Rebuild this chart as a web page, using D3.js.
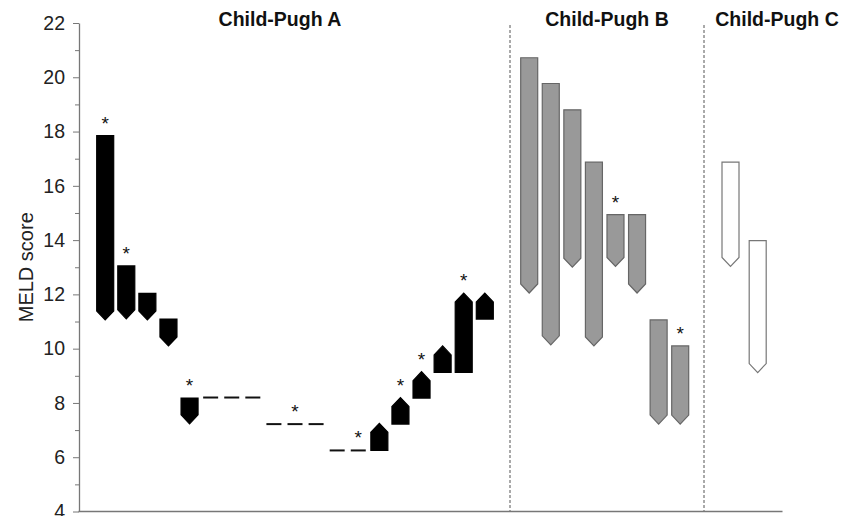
<!DOCTYPE html>
<html>
<head>
<meta charset="utf-8">
<script src="https://cdn.jsdelivr.net/npm/d3@7"></script>
<style>
  body { margin: 0; background: #fff; }
  text { font-family: "Liberation Sans", Arial, sans-serif; }
</style>
</head>
<body>
<div id="chart"></div>
<script>
// MELD score before (start) -> after (end), one entry per patient
let groupNames = ["Child-Pugh A", "Child-Pugh B", "Child-Pugh C"];

let startA = [17.85, 13.05, 12.04, 11.09, 8.18, 8.2, 8.2, 8.2, 7.22, 7.22, 7.22, 6.25, 6.25, 6.25, 7.22, 8.18, 9.13, 9.13, 11.09];
let endA   = [11.06, 11.1, 11.06, 10.1, 7.23, 8.2, 8.2, 8.2, 7.22, 7.22, 7.22, 6.25, 6.25, 7.25, 8.2, 9.15, 10.1, 12.05, 12.05];
let starA  = [1, 1, 0, 0, 1, 0, 0, 0, 0, 1, 0, 0, 1, 0, 1, 1, 0, 1, 0];

let startB = [20.72, 19.77, 18.8, 16.87, 14.94, 14.94, 11.06, 10.1];
let endB   = [12.05, 10.14, 13.0, 10.1, 13.03, 12.05, 7.22, 7.22];
let starB  = [0, 0, 0, 0, 1, 0, 0, 1];

let startC = [16.87, 13.98];
let endC   = [13.03, 9.12];
let starC  = [0, 0];

let yTicks = [4, 6, 8, 10, 12, 14, 16, 18, 20, 22];

// layout
const width = 854, height = 516;
const barW = 17, headH = 9;

let y = d3.scaleLinear().domain([4, 22]).range([511.5, 23]);

// one x scale per group (patient index -> bar centre)
let groups = [
  {name: groupNames[0], start: startA, end: endA, star: starA, range: [105.2, 484.8], fill: "#000", stroke: "#000", labelX: 280},
  {name: groupNames[1], start: startB, end: endB, star: starB, range: [529.2, 680.2], fill: "#999", stroke: "#666", labelX: 607},
  {name: groupNames[2], start: startC, end: endC, star: starC, range: [730.5, 757.7], fill: "#fff", stroke: "#777", labelX: 777}
];

let svg = d3.select("#chart").append("svg")
    .attr("width", width)
    .attr("height", height);

// dotted separators between groups
[510, 704].forEach(xs => {
  svg.append("line")
      .attr("x1", xs).attr("x2", xs)
      .attr("y1", 25).attr("y2", y(4))
      .attr("stroke", "#555")
      .attr("stroke-width", 1)
      .attr("stroke-dasharray", "3,2");
});

// y axis with minor ticks
let minor = d3.range(5, 22, 2);
svg.append("g")
    .attr("transform", "translate(79,0)")
    .call(d3.axisLeft(y).tickValues(minor).tickSize(4).tickFormat(""))
    .call(g => g.select(".domain").remove())
    .selectAll("line").attr("stroke", "#777");

let yAxis = svg.append("g")
    .attr("transform", "translate(79,0)")
    .call(d3.axisLeft(y).tickValues(yTicks).tickSize(6).tickPadding(8).tickSizeOuter(0));
yAxis.select(".domain").attr("stroke", "#777").attr("stroke-width", 1.3);
yAxis.selectAll(".tick line").attr("stroke", "#777");
yAxis.selectAll(".tick text")
    .attr("font-size", 19.5)
    .attr("fill", "#222")
    .attr("font-family", "Liberation Sans, Arial, sans-serif");

// bottom line
svg.append("line")
    .attr("x1", 78.5).attr("x2", 782.5)
    .attr("y1", y(4)).attr("y2", y(4))
    .attr("stroke", "#777")
    .attr("stroke-width", 1.3);

svg.append("text")
    .attr("transform", "translate(33," + y(13) + ") rotate(-90)")
    .attr("text-anchor", "middle")
    .attr("font-size", 20)
    .attr("fill", "#222")
    .text("MELD score");

// arrow-shaped bar: flat at the start value, pointed at the end value
const arrowPath = (cx, s, e) => {
  let x0 = cx - barW / 2, x1 = cx + barW / 2;
  let y0 = y(s), y1 = y(e);
  let sh = y1 > y0 ? y1 - headH : y1 + headH;
  return "M" + x0 + "," + y0 + "L" + x1 + "," + y0 + "L" + x1 + "," + sh +
         "L" + cx + "," + y1 + "L" + x0 + "," + sh + "Z";
};

groups.forEach(gr => {
  let x = d3.scaleLinear().domain([0, gr.start.length - 1]).range(gr.range);
  let data = gr.start.map((s, i) => ({i: i, s: s, e: gr.end[i], star: gr.star[i]}));
  let g = svg.append("g");

  // changed scores
  g.selectAll(".bar")
      .data(data.filter(d => d.s !== d.e))
    .enter()
      .append("path")
        .attr("class", "bar")
        .attr("d", d => arrowPath(x(d.i), d.s, d.e))
        .attr("fill", gr.fill)
        .attr("stroke", gr.stroke)
        .attr("stroke-width", 1.2);

  // unchanged scores: just a dash
  g.selectAll(".flat")
      .data(data.filter(d => d.s === d.e))
    .enter()
      .append("line")
        .attr("class", "flat")
        .attr("x1", d => x(d.i) - barW / 2 + 1)
        .attr("x2", d => x(d.i) + barW / 2 - 1)
        .attr("y1", d => y(d.s))
        .attr("y2", d => y(d.s))
        .attr("stroke", "#111")
        .attr("stroke-width", 2);

  // asterisks
  g.selectAll(".star")
      .data(data.filter(d => d.star))
    .enter()
      .append("text")
        .attr("class", "star")
        .attr("x", d => x(d.i))
        .attr("y", d => y(Math.max(d.s, d.e)) - 6)
        .attr("text-anchor", "middle")
        .attr("font-size", 19)
        .attr("fill", "#111")
        .text("*");

  // group heading
  svg.append("text")
      .attr("x", gr.labelX)
      .attr("y", 26)
      .attr("text-anchor", "middle")
      .attr("font-size", 19.5)
      .attr("font-weight", "bold")
      .attr("fill", "#111")
      .text(gr.name);
});
</script>
</body>
</html>
